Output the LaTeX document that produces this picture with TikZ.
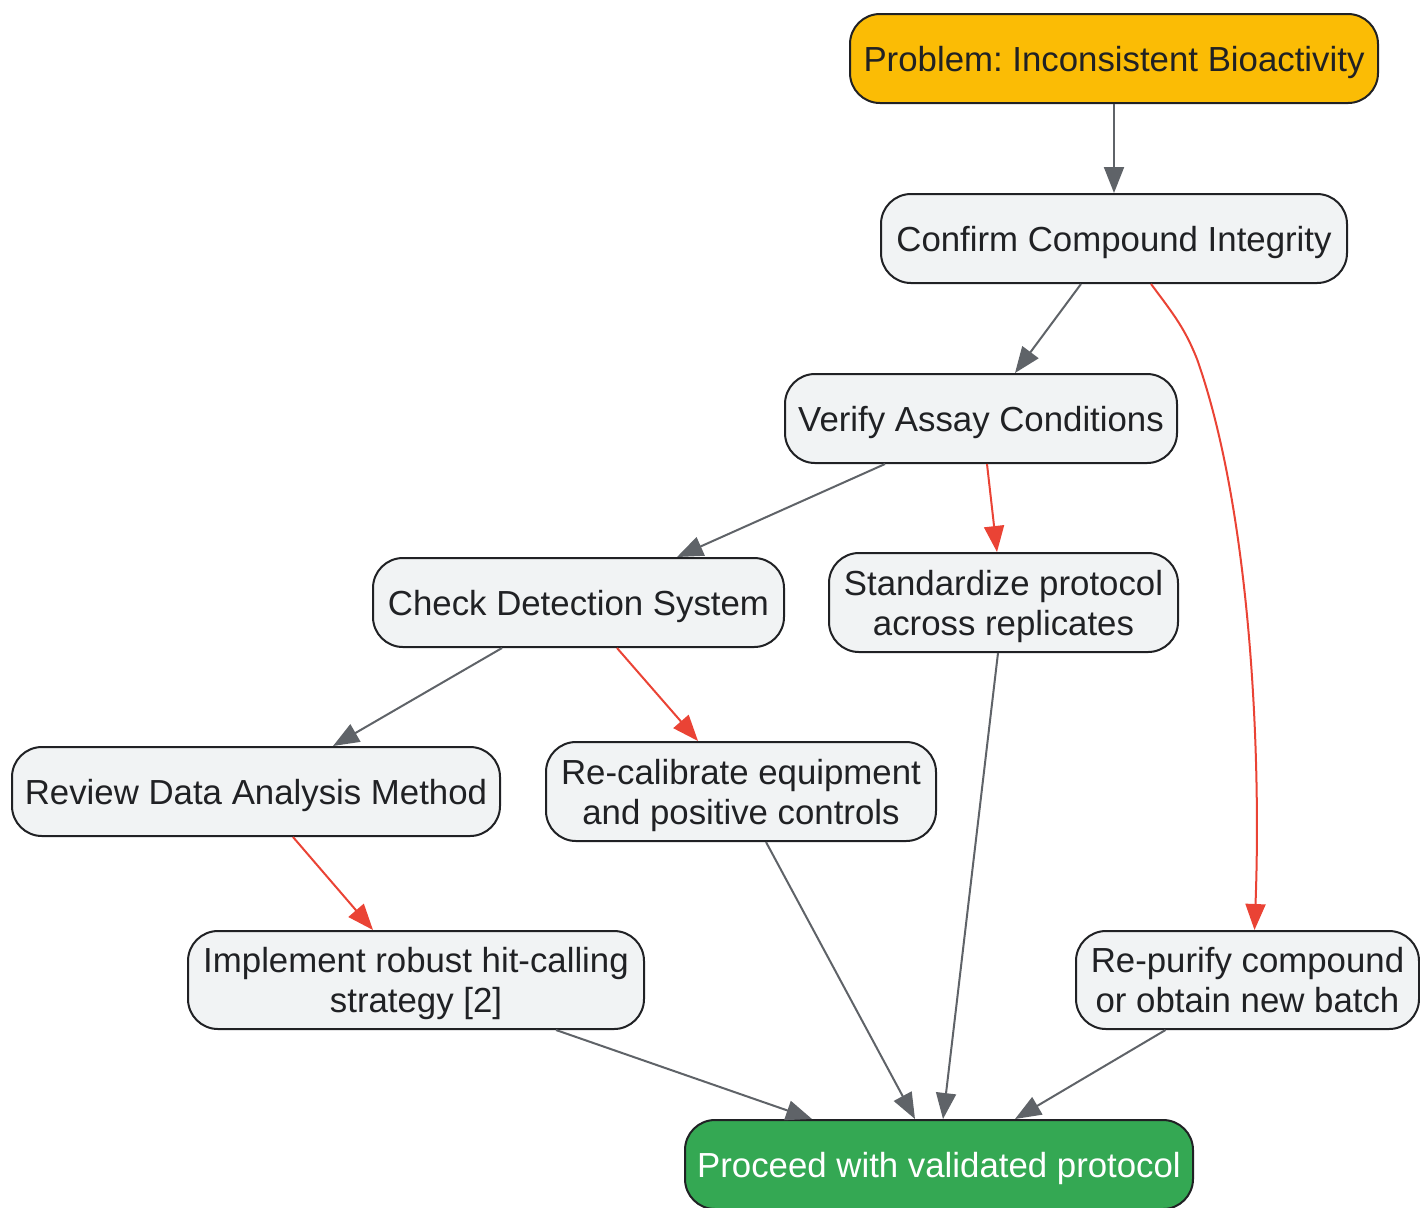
\documentclass[tikz,border=0pt]{standalone}
\usepackage{fontspec}
\setmainfont{Liberation Sans}
\usetikzlibrary{arrows.meta}
\frenchspacing
\definecolor{boxfill}{HTML}{F1F3F4}
\definecolor{boxline}{HTML}{202124}
\definecolor{probfill}{HTML}{FBBC05}
\definecolor{okfill}{HTML}{34A853}
\definecolor{edgegray}{HTML}{5F6368}
\definecolor{edgered}{HTML}{EA4335}
\tikzset{
  box/.style={draw=boxline, fill=boxfill, line width=1pt, rounded corners=15pt,
    align=center, text=boxline, inner sep=0pt, text depth=0pt,
    font=\fontsize{17.4pt}{20pt}\selectfont},
  flow/.style={draw=edgegray, line width=1pt, -{Triangle[length=13pt,width=10pt]}},
  fix/.style={draw=edgered, line width=1pt, -{Triangle[length=13pt,width=10pt]}},
}
\begin{document}
\begin{tikzpicture}[x=0.5pt,y=-0.5pt]
\useasboundingbox (0,0) rectangle (1420,1207);
\node[box, fill=probfill, minimum width=264pt, minimum height=44.5pt] (prob) at (1114,58.5) {Problem: Inconsistent Bioactivity};
\node[box, minimum width=233pt, minimum height=44.5pt] (conf) at (1114,238.5) {Confirm Compound Integrity};
\node[box, minimum width=196pt, minimum height=44.5pt] (verif) at (981,418.5) {Verify Assay Conditions};
\node[box, minimum width=205.5pt, minimum height=44.5pt] (check) at (578.5,602.5) {Check Detection System};
\node[box, minimum width=174.5pt, minimum height=49.5pt] (stand) at (1003.5,602.5) {Standardize protocol\\across replicates};
\node[box, minimum width=244pt, minimum height=44.5pt] (review) at (256,791.5) {Review Data Analysis Method};
\node[box, minimum width=195pt, minimum height=49.5pt] (recal) at (741,791.5) {Re-calibrate equipment\\and positive controls};
\node[box, minimum width=228pt, minimum height=49pt] (impl) at (416,980) {Implement robust hit-calling\\strategy [2]};
\node[box, minimum width=171.5pt, minimum height=49pt] (repur) at (1247.5,980) {Re-purify compound\\or obtain new batch};
\node[box, fill=okfill, text=white, minimum width=254pt, minimum height=44.5pt] (proc) at (939,1164.5) {Proceed with validated protocol};

\draw[flow] (prob.south) -- (conf.north);
\draw[flow] ([xshift=-16.5pt]conf.south) -- ([xshift=17pt]verif.north);
\draw[edgered, line width=1pt] ([xshift=18.5pt]conf.south) .. controls +(12pt,-16pt) and +(-6pt,15pt) .. ++(23pt,-37.5pt) coordinate (bend);
\draw[fix] (bend) .. controls +(26.5pt,-75pt) and +(3.5pt,90pt) .. ([xshift=3.5pt]repur.north);
\draw[flow] ([xshift=-48pt]verif.south) -- ([xshift=49.25pt]check.north);
\draw[fix] ([xshift=3pt]verif.south) -- ([xshift=-3.25pt]stand.north);
\draw[flow] ([xshift=-38.25pt]check.south) -- ([xshift=38.5pt]review.north);
\draw[fix] ([xshift=19.25pt]check.south) -- ([xshift=-21.5pt]recal.north);
\draw[flow] ([xshift=-2.75pt]stand.south) -- ([xshift=2pt]proc.north);
\draw[fix] ([xshift=18.5pt]review.south) -- ([xshift=-21.5pt]impl.north);
\draw[flow] ([xshift=12.5pt]recal.south) -- ([xshift=-12pt]proc.north);
\draw[flow] ([xshift=70pt]impl.south) -- ([xshift=-63.5pt]proc.north);
\draw[flow] ([xshift=-41pt]repur.south) -- ([xshift=38pt]proc.north);
\end{tikzpicture}
\end{document}
